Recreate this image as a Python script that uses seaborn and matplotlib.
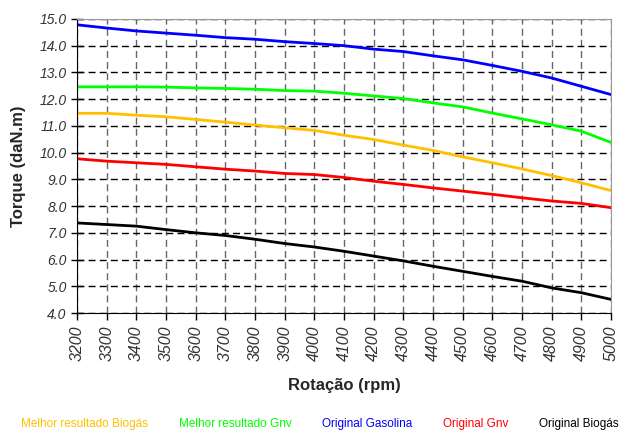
import numpy as np
import pandas as pd
import seaborn as sns
from matplotlib import pyplot as plt

rpm = list(range(3200, 5001, 100))

# torque curves (daN.m)
biogas_best = [11.47, 11.47, 11.40, 11.34, 11.24, 11.14, 11.03, 10.93, 10.83, 10.65,
               10.49, 10.28, 10.08, 9.84, 9.62, 9.39, 9.14, 8.87, 8.58]
gnv_best = [12.46, 12.46, 12.46, 12.45, 12.42, 12.40, 12.37, 12.32, 12.30, 12.22,
            12.12, 12.02, 11.86, 11.71, 11.48, 11.26, 11.04, 10.80, 10.38]
gasolina = [14.78, 14.66, 14.55, 14.47, 14.39, 14.30, 14.24, 14.15, 14.08, 14.00,
            13.87, 13.78, 13.62, 13.47, 13.26, 13.04, 12.79, 12.48, 12.17]
gnv = [9.77, 9.68, 9.62, 9.56, 9.47, 9.38, 9.31, 9.22, 9.18, 9.07,
       8.93, 8.81, 8.68, 8.56, 8.44, 8.31, 8.19, 8.10, 7.94]
biogas = [7.37, 7.31, 7.25, 7.12, 7.00, 6.90, 6.76, 6.60, 6.47, 6.31,
          6.13, 5.95, 5.75, 5.56, 5.37, 5.19, 4.94, 4.76, 4.51]

series = {
    "Melhor resultado Biogás": biogas_best,
    "Melhor resultado Gnv": gnv_best,
    "Original Gasolina": gasolina,
    "Original Gnv": gnv,
    "Original Biogás": biogas,
}
colors = ["#FFC000", "#00FF00", "#0000FF", "#FF0000", "#000000"]

df = pd.concat([pd.DataFrame({"rpm": rpm, "torque": v, "serie": k}) for k, v in series.items()])

sns.set_style("white")
plt.rcParams["font.family"] = ["Liberation Sans", "DejaVu Sans"]

fig = plt.figure(figsize=(6.21, 4.30), dpi=100)
ax = fig.add_axes([0.124, 0.272, 0.860, 0.684])
sns.lineplot(data=df, x="rpm", y="torque", hue="serie", palette=colors,
             linewidth=2, ax=ax, legend=False)

ax.set_xlim(3200, 5000)
ax.set_ylim(4.0, 15.0)
ax.set_xticks(rpm)
ax.set_xticklabels([str(r) for r in rpm], rotation=90, fontstyle="italic", fontsize=11.5, color="#333333")
ax.set_yticks(np.arange(4.0, 15.01, 1.0))
ax.set_yticklabels([f"{t:.1f}" for t in np.arange(4.0, 15.01, 1.0)], fontstyle="italic", fontsize=10, color="#333333")
ax.tick_params(axis="y", direction="inout", length=8, width=1, color="black", left=True)
ax.tick_params(axis="x", direction="out", length=5, width=1, color="black", bottom=True, pad=4)

ax.yaxis.grid(True, linestyle=(0, (5, 3)), color="black", linewidth=1)
ax.xaxis.grid(True, linestyle=(0, (5, 3)), color="#666666", linewidth=1)
for side in ["top", "right"]:
    ax.spines[side].set_color("#999999")
for side in ["left", "bottom"]:
    ax.spines[side].set_color("black")

ax.set_xlabel("Rotação (rpm)", fontweight="bold", fontsize=12, labelpad=12)
ax.set_ylabel("Torque (daN.m)", fontweight="bold", fontsize=12, labelpad=10)

handles = [plt.Line2D([], [], color=c, linewidth=0) for c in colors]
fig.legend(handles, list(series.keys()), loc="lower center", ncol=5, frameon=False,
           handlelength=0, handletextpad=0, columnspacing=2.6, fontsize=8.5,
           labelcolor=colors, bbox_to_anchor=(0.515, -0.025))

fig.savefig("out.png", dpi=100)
